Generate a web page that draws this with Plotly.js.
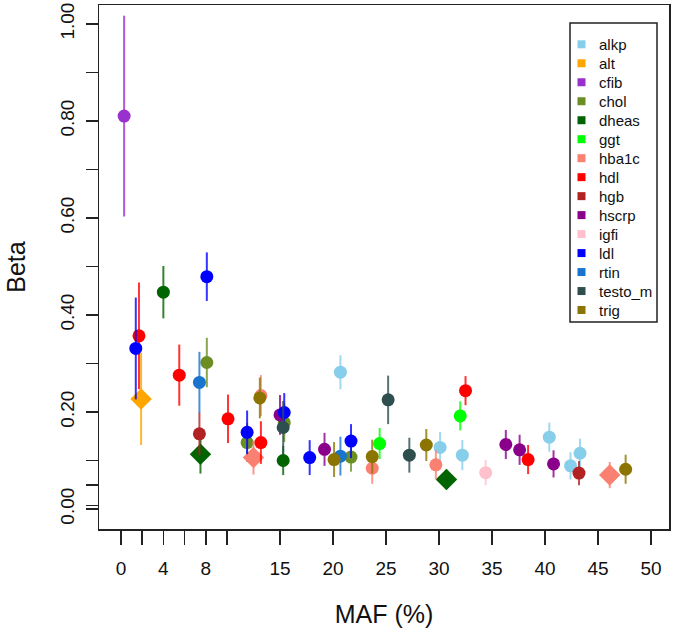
<!DOCTYPE html>
<html>
<head>
<meta charset="utf-8">
<script src="https://cdn.plot.ly/plotly-3.0.1.min.js"></script>
<style>html,body{margin:0;padding:0;background:#fff;}#chart{width:675px;height:636px;}</style>
</head>
<body>
<div id="chart"></div>
<script>
// ---- data ----
var traits = ["alkp","alt","cfib","chol","dheas","ggt","hba1c","hdl","hgb","hscrp","igfi","ldl","rtin","testo_m","trig"];
var traitColors = ["#87CEEB","#FFA500","#9932CC","#6B8E23","#006400","#00FF00","#FA8072","#FF0000","#B22222","#8B008B","#FFC0CB","#0000FF","#1874CD","#2F4F4F","#8B7500"];

var pointTrait = ["alkp","alkp","alkp","alkp","alkp","alkp",
  "alt","cfib",
  "chol","chol","chol","chol",
  "dheas","dheas","dheas","dheas",
  "ggt","ggt",
  "hba1c","hba1c","hba1c","hba1c","hba1c",
  "hdl","hdl","hdl","hdl","hdl","hdl",
  "hgb","hgb",
  "hscrp","hscrp","hscrp","hscrp","hscrp",
  "igfi",
  "ldl","ldl","ldl","ldl","ldl","ldl",
  "rtin","rtin",
  "testo_m","testo_m","testo_m",
  "trig","trig","trig","trig","trig"];
var maf = [20.7,30.1,32.2,40.4,42.4,43.3,
  1.9,0.3,
  8.1,11.9,15.4,21.7,
  4.0,7.5,15.3,30.7,
  24.4,32.0,
  12.5,13.2,23.7,29.7,46.1,
  1.7,5.5,10.1,13.2,32.5,38.4,
  7.4,43.2,
  15.0,19.2,36.3,37.6,40.8,
  34.4,
  1.4,8.1,11.9,15.4,17.8,21.7,
  7.4,20.7,
  15.3,25.2,27.2,
  13.1,20.1,23.7,28.8,47.6];
var beta = [0.282,0.127,0.111,0.148,0.089,0.115,
  0.227,0.810,
  0.302,0.137,0.178,0.107,
  0.447,0.113,0.100,0.061,
  0.135,0.192,
  0.106,0.234,0.084,0.091,0.070,
  0.357,0.276,0.186,0.137,0.244,0.102,
  0.155,0.074,
  0.194,0.123,0.133,0.122,0.093,
  0.075,
  0.331,0.479,0.158,0.199,0.106,0.140,
  0.261,0.109,
  0.168,0.225,0.111,
  0.229,0.102,0.108,0.132,0.082];
var errHalf = [0.035,0.032,0.031,0.030,0.028,0.030,
  0.095,0.207,
  0.051,0.040,0.040,0.030,
  0.054,0.040,0.030,0.020,
  0.032,0.030,
  0.035,0.042,0.032,0.030,0.027,
  0.110,0.063,0.050,0.044,0.030,0.030,
  0.044,0.025,
  0.041,0.034,0.030,0.031,0.028,
  0.026,
  0.105,0.050,0.045,0.040,0.036,0.035,
  0.063,0.040,
  0.055,0.050,0.036,
  0.042,0.036,0.035,0.033,0.030];
var isDiamond = [0,0,0,0,0,0,
  1,0,
  0,0,0,0,
  0,1,0,1,
  0,0,
  1,0,0,0,1,
  0,0,0,0,0,0,
  0,0,
  0,0,0,0,0,
  0,
  0,0,0,0,0,0,
  0,0,
  0,0,0,
  0,0,0,0,0];

var xTickVals = [0,2,4,6,8,10,15,20,25,30,35,40,45,50];
var xTickText = ["0","","4","","8","","15","20","25","30","35","40","45","50"];
var yTickVals = [0,0.007,0.05,0.1,0.2,0.3,0.4,0.5,0.6,0.7,0.8,0.9,1.0];
var yTickText = ["0.00","","","","0.20","","0.40","","0.60","","0.80","","1.00"];

// ---- geometry helpers (pixel layout) ----
var W = 675, H = 636;
var M = {l:99, r:6, t:5, b:107};
var pw = W - M.l - M.r, ph = H - M.t - M.b;
function px2x(p){ return (p - M.l) / pw; }
function px2y(p){ return (H - M.b - p) / ph; }

function hexA(hex, a){
  var r = parseInt(hex.substr(1,2),16), g = parseInt(hex.substr(3,2),16), b = parseInt(hex.substr(5,2),16);
  return "rgba("+r+","+g+","+b+","+a+")";
}

var traces = [];
traits.forEach(function(t, ti){
  var xs=[], ys=[], es=[], sym=[], sz=[];
  for (var i=0;i<pointTrait.length;i++){
    if (pointTrait[i]===t){
      xs.push(maf[i]); ys.push(beta[i]); es.push(errHalf[i]);
      sym.push(isDiamond[i] ? "diamond" : "circle");
      sz.push(isDiamond[i] ? 16.5 : 13);
    }
  }
  traces.push({
    type:"scatter", mode:"markers", name:t, x:xs, y:ys, showlegend:false,
    marker:{color:traitColors[ti], symbol:sym, size:sz, opacity:1, line:{width:0}},
    error_y:{type:"data", array:es, visible:true, color:hexA(traitColors[ti],0.8), thickness:2, width:0},
    hoverinfo:"x+y+name"
  });
});

// ---- manual legend (R-style) ----
var shapes = [];
var annotations = [];
var lgLeft = 570, lgRight = 657, lgTop = 23, lgBottom = 322;
shapes.push({type:"rect", xref:"paper", yref:"paper",
  x0:px2x(lgLeft), x1:px2x(lgRight), y0:px2y(lgBottom), y1:px2y(lgTop),
  line:{color:"#222", width:1.5}, fillcolor:"rgba(255,255,255,0)"});
traits.forEach(function(t, ti){
  var cy = 44.3 + ti*18.98;
  var cx = 581.5, hs = 4;
  shapes.push({type:"rect", xref:"paper", yref:"paper",
    x0:px2x(cx-hs), x1:px2x(cx+hs), y0:px2y(cy+hs), y1:px2y(cy-hs),
    line:{width:0}, fillcolor:traitColors[ti]});
  annotations.push({xref:"paper", yref:"paper", x:px2x(597), y:px2y(cy),
    xanchor:"left", yanchor:"middle", showarrow:false, text:t,
    font:{family:"Liberation Sans, Arial, sans-serif", size:15, color:"#111"}});
});

var layout = {
  width:W, height:H,
  margin:M,
  paper_bgcolor:"#fff", plot_bgcolor:"#fff",
  showlegend:false,
  font:{family:"Liberation Sans, Arial, sans-serif", color:"#111"},
  xaxis:{
    range:[-2.07, 51.69], tickmode:"array", tickvals:xTickVals, ticktext:xTickText,
    ticks:"outside", ticklen:14, tickwidth:1.5, tickcolor:"#222",
    ticklabelstandoff:8,
    showgrid:false, zeroline:false, showline:true, mirror:true, linecolor:"#222", linewidth:1.5,
    tickfont:{size:19, color:"#111"},
    title:{text:"MAF (%)", font:{size:25, color:"#111"}, standoff:27}
  },
  yaxis:{
    range:[-0.0412, 1.039], tickmode:"array", tickvals:yTickVals, ticktext:yTickText,
    ticks:"outside", ticklen:12, tickwidth:1.5, tickcolor:"#222",
    tickangle:-90, ticklabelstandoff:4,
    showgrid:false, zeroline:false, showline:true, mirror:true, linecolor:"#222", linewidth:1.5,
    tickfont:{size:19, color:"#111"},
    title:{text:"Beta", font:{size:25, color:"#111"}, standoff:24}
  },
  shapes:shapes,
  annotations:annotations
};

Plotly.newPlot("chart", traces, layout, {displayModeBar:false, staticPlot:true});
</script>
</body>
</html>
